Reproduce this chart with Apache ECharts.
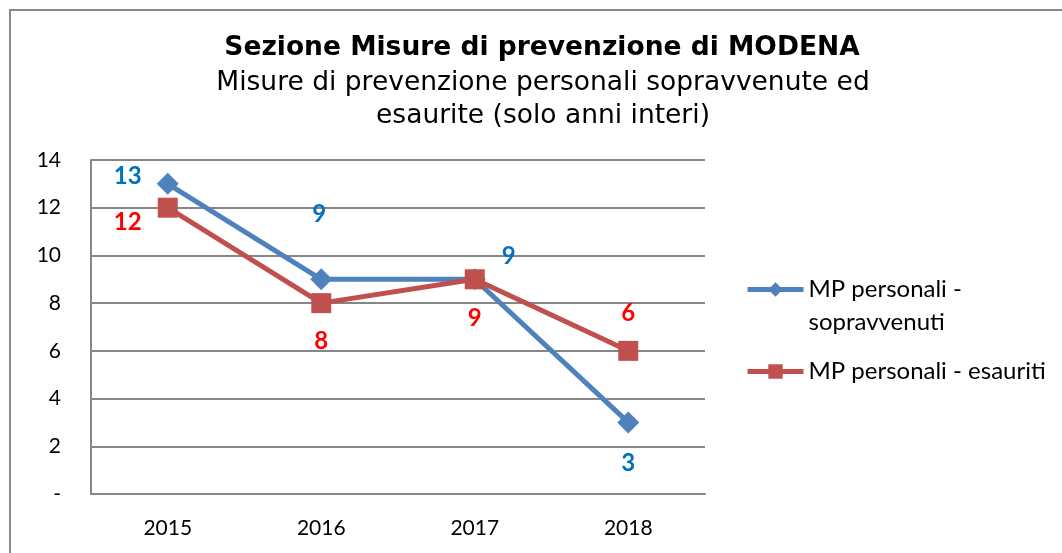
<!DOCTYPE html>
<html>
<head>
<meta charset="utf-8">
<script src="https://cdn.jsdelivr.net/npm/echarts@6/dist/echarts.min.js"></script>
<style>
  html, body { margin: 0; padding: 0; background: #fff; }
  #main { width: 1062px; height: 553px; }
</style>
</head>
<body>
<div id="main"></div>
<script>
// dati
var anni = ['2015', '2016', '2017', '2018'];
var sopravvenuti = [13, 9, 9, 3];
var esauriti = [12, 8, 9, 6];
var nomeSopr = 'MP personali - sopravvenuti';
var nomeEsau = 'MP personali - esauriti';

// spostamento delle etichette rispetto al punto
var offSopr = [[-40, -8], [-2, -65], [34, -23], [0, 41]];
var offEsau = [[-40, 15], [0, 38], [0, 39], [0, -38]];

var chart = echarts.init(document.getElementById('main'));

function punti(valori, off) {
  return valori.map(function (v, i) {
    return { value: v, label: { offset: off[i] } };
  });
}

var testoLegenda = { fontFamily: 'Lato', fontSize: 24, color: '#000', lineHeight: 33 };

var option = {
  backgroundColor: '#fff',
  animation: false,
  title: [{
    text: 'Sezione Misure di prevenzione di MODENA',
    left: 537,
    top: 30,
    textAlign: 'center',
    textStyle: { fontFamily: 'DejaVu Sans', fontWeight: 'bold', fontSize: 26.5, color: '#000' }
  }, {
    text: 'Misure di prevenzione personali sopravvenute ed\nesaurite (solo anni interi)',
    left: 538,
    top: 62,
    textAlign: 'center',
    textStyle: { fontFamily: 'DejaVu Sans', fontWeight: 'normal', fontSize: 26.5, lineHeight: 33, color: '#000' }
  }],
  graphic: [{
    type: 'rect',
    shape: { x: 10, y: 10, width: 1100, height: 600 },
    style: { fill: 'none', stroke: '#898989', lineWidth: 2 },
    silent: true
  }],
  legend: [{
    orient: 'vertical',
    left: 740,
    top: 235,
    itemWidth: 56,
    itemHeight: 18,
    data: [nomeSopr],
    lineStyle: { width: 5 },
    // riga vuota sopra: la prima riga resta all'altezza del simbolo
    formatter: function (name) {
      return ' \n' + name.replace(' - sopravvenuti', ' -\nsopravvenuti');
    },
    textStyle: testoLegenda
  }, {
    orient: 'vertical',
    left: 740,
    top: 350,
    itemWidth: 56,
    itemHeight: 18,
    data: [nomeEsau],
    lineStyle: { width: 5 },
    textStyle: testoLegenda
  }],
  grid: { left: 91, right: 357, top: 160, bottom: 59 },
  xAxis: {
    type: 'category',
    data: anni,
    boundaryGap: true,
    axisLine: { lineStyle: { color: '#868686', width: 2 } },
    axisTick: { show: false },
    axisLabel: { fontFamily: 'Lato', fontSize: 21, color: '#000', margin: 24 }
  },
  yAxis: {
    type: 'value',
    min: 0,
    max: 14,
    interval: 2,
    axisLine: { show: true, lineStyle: { color: '#868686', width: 2 } },
    axisTick: { show: false },
    splitLine: { lineStyle: { color: '#868686', width: 2 } },
    axisLabel: {
      fontFamily: 'Lato', fontSize: 21, color: '#000', margin: 30,
      formatter: function (v) { return v === 0 ? '-' : v; }
    }
  },
  series: [{
    name: nomeSopr,
    type: 'line',
    data: punti(sopravvenuti, offSopr),
    symbol: 'diamond',
    symbolSize: 22,
    color: '#4F81BD',
    lineStyle: { width: 5, color: '#4F81BD' },
    label: {
      show: true, position: 'inside',
      fontFamily: 'Lato', fontWeight: 'bold', fontSize: 24, color: '#0070C0'
    }
  }, {
    name: nomeEsau,
    type: 'line',
    data: punti(esauriti, offEsau),
    symbol: 'rect',
    symbolSize: 20,
    color: '#C0504D',
    lineStyle: { width: 5, color: '#C0504D' },
    label: {
      show: true, position: 'inside',
      fontFamily: 'Lato', fontWeight: 'bold', fontSize: 24, color: '#FF0000'
    }
  }]
};

chart.setOption(option);
</script>
</body>
</html>
